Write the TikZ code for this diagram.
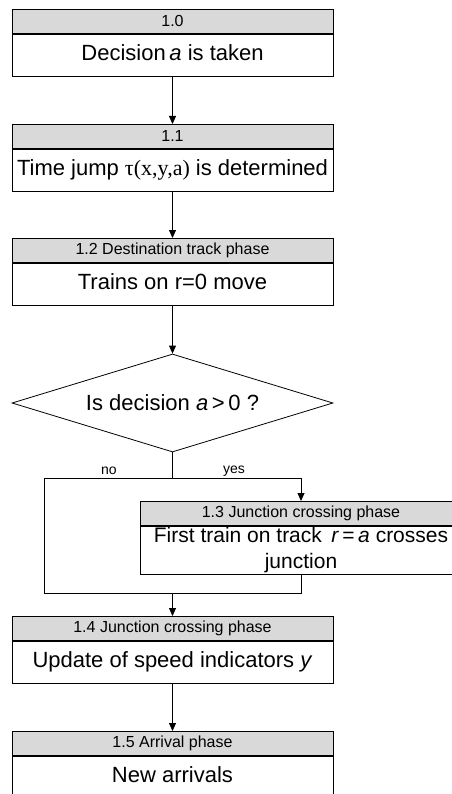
\documentclass[tikz,border=0pt]{standalone}
\usepackage{fontspec}
\setmainfont{Liberation Sans}
\newfontfamily\tfont{Liberation Serif}
\usepackage{xcolor}
\usepackage{tikz}
\usetikzlibrary{arrows.meta,positioning,shapes.geometric}

\definecolor{headgray}{RGB}{217,217,217}

\tikzset{
  headbox/.style={draw=black,fill=headgray,anchor=north,minimum width=321pt,
    minimum height=24pt,inner sep=0pt,font=\fontsize{16}{18}\selectfont},
  bodybox/.style={draw=black,fill=white,minimum width=321pt,minimum height=42pt,
    inner sep=0pt,align=center,text height=15pt,text depth=5pt,
    font=\fontsize{22}{26}\selectfont},
  askbox/.style={draw=black,diamond,aspect=3.28,minimum width=321pt,
    minimum height=98pt,inner sep=0pt,font=\fontsize{22}{24}\selectfont},
  branch/.style={font=\fontsize{14}{16}\selectfont,inner sep=0pt}
}

\begin{document}
\begin{tikzpicture}[x=1pt,y=-1pt,line width=0.8pt]
\useasboundingbox (0,0) rectangle (451,794);
\begin{scope}[>={Triangle[length=8pt,width=7pt]},node distance=0pt]

    % step 1.0
    \node[headbox] (h10) at (172.5,9) {1.0};
    \node[bodybox,below=of h10] (b10) {Decision\,\textit{a} is taken};

    % step 1.1
    \node[headbox] (h11) at (172.5,124) {1.1};
    \node[bodybox,below=of h11] (b11) {Time jump {\tfont τ(x,y,a)} is determined};

    % step 1.2
    \node[headbox] (h12) at (172.5,238) {1.2 Destination track phase};
    \node[bodybox,below=of h12] (b12) {Trains on r=0 move};

    % the question
    \node[askbox] (ask) at (172.5,403) {Is decision \textit{a}\,>\,0 ?};

    % step 1.3
    \node[headbox] (h13) at (301,501) {1.3 Junction crossing phase};
    \node[bodybox,below=of h13,minimum height=48pt,text height=,text depth=,
      font=\fontsize{21}{26}\selectfont] (b13)
      {First train on track\, \textit{r}\,=\,\textit{a} crosses\\junction};

    % step 1.4
    \node[headbox] (h14) at (172.5,616) {1.4 Junction crossing phase};
    \node[bodybox,below=of h14] (b14) {Update of speed indicators \textit{y}};

    % step 1.5
    \node[headbox] (h15) at (172.5,731) {1.5 Arrival phase};
    \node[bodybox,below=of h15] (b15) {New arrivals};

    % branch points
    \coordinate (split) at (172.5,478);
    \coordinate (nocorner) at (44,478);
    \coordinate (leftlow) at (44,593);
    \coordinate (merge) at (172.5,593);

    \draw[->] (b10) -- (h11);
    \draw[->] (b11) -- (h12);
    \draw[->] (b12) -- (ask);

    \draw (ask.south) -- (split) -- (nocorner) -- (leftlow) -- (merge);
    \draw[->] (split) -| (h13.north);
    \draw (b13.south) |- (merge);
    \draw[->] (merge) -- (h14);
    \draw[->] (b14) -- (h15);

    \node[branch] (lblno) at (109,471) {no};
    \node[branch] (lblyes) at (234,471) {yes};

\end{scope}
\end{tikzpicture}
\end{document}
